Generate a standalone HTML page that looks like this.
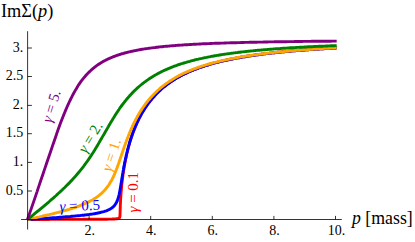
<!DOCTYPE html>
<html><head><meta charset="utf-8"><title>Im Sigma(p) plot</title>
<style>
html,body{margin:0;padding:0;background:#fff;}
body{width:415px;height:242px;overflow:hidden;font-family:"Liberation Serif",serif;}
svg{display:block;}
.ax{stroke:#000;stroke-width:0.8;fill:none;}
.cv{fill:none;stroke-width:2.9;stroke-linejoin:round;stroke-linecap:butt;}
</style></head><body>
<svg width="415" height="242" viewBox="0 0 415 242">
<rect width="415" height="242" fill="#fff"/>
<path class="cv" stroke="#ff0000" d="M27.5,219.5 28.7,219.5 29.9,219.5 31.1,219.5 32.3,219.5 33.5,219.5 34.7,219.5 35.9,219.5 37.1,219.5 38.2,219.5 39.4,219.5 40.6,219.5 41.8,219.5 43.0,219.5 44.2,219.5 45.4,219.5 46.6,219.5 47.8,219.5 49.0,219.5 50.2,219.4 51.4,219.4 52.6,219.4 53.8,219.4 55.0,219.4 56.2,219.4 57.3,219.4 58.5,219.4 59.7,219.4 60.9,219.4 62.1,219.4 63.3,219.4 64.5,219.4 65.7,219.4 66.9,219.4 68.1,219.4 69.3,219.4 70.5,219.4 71.7,219.4 72.9,219.4 74.1,219.4 75.3,219.4 76.5,219.4 77.6,219.4 78.8,219.4 80.0,219.4 81.2,219.4 82.4,219.4 83.6,219.3 84.8,219.3 86.0,219.3 87.2,219.3 88.4,219.3 89.6,219.3 90.8,219.3 92.0,219.3 93.2,219.3 94.4,219.3 95.6,219.3 96.7,219.3 97.9,219.3 99.1,219.3 100.3,219.2 101.5,219.2 102.7,219.2 103.9,219.2 105.1,219.2 106.3,219.2 107.5,219.2 107.6,219.2 107.8,219.1 108.1,219.1 108.4,219.1 108.6,219.1 108.7,219.1 108.9,219.1 109.1,219.1 109.4,219.1 109.7,219.1 109.9,219.1 109.9,219.1 110.2,219.1 110.4,219.1 110.7,219.1 110.9,219.1 111.1,219.1 111.2,219.1 111.5,219.1 111.7,219.1 112.0,219.1 112.2,219.0 112.3,219.0 112.5,219.0 112.8,219.0 113.0,219.0 113.3,219.0 113.5,219.0 113.5,219.0 113.8,219.0 114.1,219.0 114.3,219.0 114.6,218.9 114.7,218.9 114.8,218.9 115.1,218.9 115.3,218.9 115.6,218.9 115.9,218.9 115.9,218.9 116.1,218.8 116.4,218.8 116.6,218.8 116.9,218.8 117.0,218.7 117.2,218.7 117.4,218.7 117.7,218.6 117.9,218.6 118.2,218.5 118.2,218.5 118.5,218.4 118.7,218.3 119.0,218.2 119.2,218.0 119.3,218.0 119.3,217.9 119.4,217.8 119.4,217.8 119.4,217.8 119.5,217.7 119.5,217.7 119.5,217.6 119.6,217.5 119.6,217.4 119.7,217.2 119.7,217.1 119.8,217.0 119.8,216.8 119.9,216.5 119.9,216.1 120.0,215.5 120.0,214.7 120.0,214.5 120.1,213.1 120.1,211.4 120.2,209.7 120.2,208.1 120.3,207.0 120.3,206.7 120.3,205.4 120.4,204.1 120.4,203.0 120.5,202.0 120.5,201.3 120.5,201.0 120.6,200.0 120.6,199.3 120.6,199.1 120.7,198.2 120.7,197.4 120.8,196.9 120.8,196.6 120.9,195.8 120.9,195.1 121.0,194.4 121.0,193.7 121.0,193.2 121.1,193.0 121.1,192.3 121.2,191.7 121.2,191.0 121.3,190.4 121.3,190.1 121.3,189.8 121.4,189.2 121.4,188.6 121.5,188.1 121.5,187.5 121.6,187.2 121.6,187.0 121.6,186.4 121.7,185.9 121.7,185.4 121.8,184.9 121.8,184.6 121.8,184.6 121.8,184.4 121.9,183.9 121.9,183.4 122.0,182.9 122.1,182.5 122.1,182.2 122.1,182.0 122.2,181.5 122.2,181.1 122.3,180.6 122.3,180.2 122.3,180.0 122.4,179.8 122.6,177.9 122.9,176.0 123.0,174.7 123.1,174.1 123.4,172.3 123.6,170.6 123.9,168.9 124.1,167.4 124.2,167.0 124.4,165.9 124.7,164.4 124.9,163.0 125.2,161.6 125.4,160.5 125.4,160.3 125.7,159.0 126.0,157.8 126.2,156.5 126.5,155.4 126.6,154.8 126.7,154.2 127.0,153.1 127.3,152.0 127.5,150.9 127.8,149.9 127.8,149.8 128.0,148.9 128.3,147.9 128.5,146.9 128.8,145.9 129.0,145.3 129.1,145.0 129.3,144.1 129.6,143.2 129.8,142.3 130.1,141.4 130.2,141.2 130.4,140.6 130.6,139.7 130.9,138.9 131.1,138.1 131.4,137.4 131.4,137.3 131.7,136.6 131.9,135.8 132.2,135.0 132.4,134.3 132.6,133.9 132.7,133.6 132.9,132.8 133.2,132.1 133.5,131.4 133.7,130.8 133.8,130.7 134.0,130.1 134.2,129.4 134.5,128.8 134.8,128.1 135.0,127.6 135.0,127.5 135.3,126.9 135.5,126.2 135.8,125.6 136.1,125.0 136.1,124.8 136.3,124.4 136.6,123.9 136.8,123.3 137.1,122.7 137.3,122.2 137.3,122.1 137.6,121.6 137.9,121.0 138.1,120.5 138.4,120.0 138.5,119.6 139.7,117.3 140.9,115.0 142.1,112.9 143.3,110.9 144.5,109.0 145.7,107.2 146.9,105.4 148.1,103.7 149.3,102.1 150.5,100.6 151.7,99.2 152.9,97.7 154.1,96.4 155.3,95.1 156.4,93.8 157.6,92.6 158.8,91.5 160.0,90.4 161.2,89.3 162.4,88.2 163.6,87.2 164.8,86.3 166.0,85.3 167.2,84.4 168.4,83.5 169.6,82.7 170.8,81.9 172.0,81.1 173.2,80.3 174.4,79.5 175.5,78.8 176.7,78.1 177.9,77.4 179.1,76.7 180.3,76.1 181.5,75.4 182.7,74.8 183.9,74.2 185.1,73.6 186.3,73.1 187.5,72.5 188.7,72.0 189.9,71.5 191.1,70.9 192.3,70.4 193.5,70.0 194.7,69.5 195.8,69.0 197.0,68.6 198.2,68.1 199.4,67.7 200.6,67.3 201.8,66.9 203.0,66.5 204.2,66.1 205.4,65.7 206.6,65.3 207.8,65.0 209.0,64.6 210.2,64.2 211.4,63.9 212.6,63.6 213.8,63.2 214.9,62.9 216.1,62.6 217.3,62.3 218.5,62.0 219.7,61.7 220.9,61.4 222.1,61.1 223.3,60.9 224.5,60.6 225.7,60.3 226.9,60.1 228.1,59.8 229.3,59.5 230.5,59.3 231.7,59.1 232.9,58.8 234.1,58.6 235.2,58.4 236.4,58.1 237.6,57.9 238.8,57.7 240.0,57.5 241.2,57.3 242.4,57.1 243.6,56.9 244.8,56.7 246.0,56.5 247.2,56.3 248.4,56.1 249.6,55.9 250.8,55.7 252.0,55.6 253.2,55.4 254.3,55.2 255.5,55.0 256.7,54.9 257.9,54.7 259.1,54.6 260.3,54.4 261.5,54.2 262.7,54.1 263.9,53.9 265.1,53.8 266.3,53.6 267.5,53.5 268.7,53.4 269.9,53.2 271.1,53.1 272.3,52.9 273.5,52.8 274.6,52.7 275.8,52.6 277.0,52.4 278.2,52.3 279.4,52.2 280.6,52.1 281.8,51.9 283.0,51.8 284.2,51.7 285.4,51.6 286.6,51.5 287.8,51.4 289.0,51.3 290.2,51.2 291.4,51.0 292.6,50.9 293.7,50.8 294.9,50.7 296.1,50.6 297.3,50.5 298.5,50.4 299.7,50.3 300.9,50.2 302.1,50.2 303.3,50.1 304.5,50.0 305.7,49.9 306.9,49.8 308.1,49.7 309.3,49.6 310.5,49.5 311.7,49.5 312.9,49.4 314.0,49.3 315.2,49.2 316.4,49.1 317.6,49.0 318.8,49.0 320.0,48.9 321.2,48.8 322.4,48.7 323.6,48.7 324.8,48.6 326.0,48.5 327.2,48.5 328.4,48.4 329.6,48.3 330.8,48.2 332.0,48.2 333.2,48.1 334.3,48.0 335.5,48.0 336.7,47.9"/>
<path class="cv" stroke="#0000ff" d="M27.5,219.5 28.7,219.4 29.9,219.3 31.1,219.3 32.3,219.2 33.5,219.1 34.7,219.0 35.9,219.0 37.1,218.9 38.2,218.8 39.4,218.7 40.6,218.6 41.8,218.6 43.0,218.5 44.2,218.4 45.4,218.3 46.6,218.2 47.8,218.2 49.0,218.1 50.2,218.0 51.4,217.9 52.6,217.8 53.8,217.7 55.0,217.7 56.2,217.6 57.3,217.5 58.5,217.4 59.7,217.3 60.9,217.2 62.1,217.1 63.3,217.0 64.5,216.9 65.7,216.8 66.9,216.8 68.1,216.7 69.3,216.6 70.5,216.5 71.7,216.3 72.9,216.2 74.1,216.1 75.3,216.0 76.5,215.9 77.6,215.8 78.8,215.7 80.0,215.6 81.2,215.4 82.4,215.3 83.6,215.2 84.8,215.0 86.0,214.9 87.2,214.7 88.4,214.6 89.6,214.4 90.8,214.2 92.0,214.1 93.2,213.9 94.4,213.7 95.6,213.5 96.7,213.3 97.9,213.0 99.1,212.8 100.3,212.5 101.5,212.2 102.7,211.9 103.9,211.6 105.1,211.2 106.3,210.8 107.5,210.3 107.6,210.3 107.8,210.2 108.1,210.1 108.4,209.9 108.6,209.8 108.7,209.8 108.9,209.7 109.1,209.6 109.4,209.4 109.7,209.3 109.9,209.2 109.9,209.2 110.2,209.0 110.4,208.9 110.7,208.7 110.9,208.5 111.1,208.5 111.2,208.4 111.5,208.2 111.7,208.0 112.0,207.8 112.2,207.6 112.3,207.6 112.5,207.4 112.8,207.2 113.0,207.0 113.3,206.8 113.5,206.6 113.5,206.5 113.8,206.2 114.1,206.0 114.3,205.7 114.6,205.4 114.7,205.3 114.8,205.1 115.1,204.7 115.3,204.3 115.6,204.0 115.9,203.6 115.9,203.5 116.1,203.1 116.4,202.6 116.6,202.1 116.9,201.5 117.0,201.2 117.2,201.0 117.4,200.3 117.7,199.6 117.9,198.8 118.2,198.0 118.2,197.9 118.5,197.1 118.7,196.1 119.0,195.1 119.2,193.9 119.3,193.7 119.3,193.4 119.4,193.2 119.4,193.0 119.4,192.9 119.5,192.7 119.5,192.7 119.5,192.4 119.6,192.1 119.6,191.9 119.7,191.6 119.7,191.4 119.8,191.3 119.8,191.1 119.9,190.8 119.9,190.5 120.0,190.2 120.0,190.0 120.0,189.9 120.1,189.6 120.1,189.3 120.2,189.1 120.2,188.8 120.3,188.5 120.3,188.5 120.3,188.1 120.4,187.8 120.4,187.5 120.5,187.2 120.5,187.0 120.5,186.9 120.6,186.6 120.6,186.4 120.6,186.3 120.7,186.0 120.7,185.6 120.8,185.4 120.8,185.3 120.9,185.0 120.9,184.7 121.0,184.4 121.0,184.0 121.0,183.8 121.1,183.7 121.1,183.4 121.2,183.1 121.2,182.7 121.3,182.4 121.3,182.2 121.3,182.1 121.4,181.7 121.4,181.4 121.5,181.1 121.5,180.8 121.6,180.6 121.6,180.4 121.6,180.1 121.7,179.8 121.7,179.5 121.8,179.1 121.8,179.0 121.8,178.9 121.8,178.8 121.9,178.5 121.9,178.2 122.0,177.8 122.1,177.5 122.1,177.4 122.1,177.2 122.2,176.9 122.2,176.5 122.3,176.2 122.3,175.9 122.3,175.8 122.4,175.6 122.6,174.2 122.9,172.7 123.0,171.7 123.1,171.2 123.4,169.7 123.6,168.3 123.9,166.9 124.1,165.5 124.2,165.2 124.4,164.2 124.7,162.9 124.9,161.6 125.2,160.3 125.4,159.3 125.4,159.1 125.7,157.9 126.0,156.8 126.2,155.6 126.5,154.5 126.6,154.0 126.7,153.4 127.0,152.4 127.3,151.3 127.5,150.3 127.8,149.3 127.8,149.2 128.0,148.3 128.3,147.3 128.5,146.4 128.8,145.5 129.0,144.8 129.1,144.6 129.3,143.7 129.6,142.8 129.8,141.9 130.1,141.1 130.2,140.8 130.4,140.3 130.6,139.4 130.9,138.6 131.1,137.8 131.4,137.1 131.4,137.1 131.7,136.3 131.9,135.5 132.2,134.8 132.4,134.1 132.6,133.7 132.7,133.4 132.9,132.7 133.2,132.0 133.5,131.3 133.7,130.6 133.8,130.5 134.0,129.9 134.2,129.3 134.5,128.6 134.8,128.0 135.0,127.5 135.0,127.4 135.3,126.7 135.5,126.1 135.8,125.5 136.1,124.9 136.1,124.7 136.3,124.3 136.6,123.8 136.8,123.2 137.1,122.6 137.3,122.1 137.3,122.1 137.6,121.5 137.9,121.0 138.1,120.4 138.4,119.9 138.5,119.6 139.7,117.2 140.9,115.0 142.1,112.9 143.3,110.9 144.5,109.0 145.7,107.1 146.9,105.4 148.1,103.7 149.3,102.1 150.5,100.6 151.7,99.1 152.9,97.7 154.1,96.4 155.3,95.1 156.4,93.8 157.6,92.6 158.8,91.5 160.0,90.4 161.2,89.3 162.4,88.2 163.6,87.2 164.8,86.3 166.0,85.3 167.2,84.4 168.4,83.5 169.6,82.7 170.8,81.9 172.0,81.1 173.2,80.3 174.4,79.5 175.5,78.8 176.7,78.1 177.9,77.4 179.1,76.7 180.3,76.1 181.5,75.4 182.7,74.8 183.9,74.2 185.1,73.6 186.3,73.1 187.5,72.5 188.7,72.0 189.9,71.5 191.1,70.9 192.3,70.4 193.5,70.0 194.7,69.5 195.8,69.0 197.0,68.6 198.2,68.1 199.4,67.7 200.6,67.3 201.8,66.9 203.0,66.5 204.2,66.1 205.4,65.7 206.6,65.3 207.8,65.0 209.0,64.6 210.2,64.2 211.4,63.9 212.6,63.6 213.8,63.2 214.9,62.9 216.1,62.6 217.3,62.3 218.5,62.0 219.7,61.7 220.9,61.4 222.1,61.1 223.3,60.8 224.5,60.6 225.7,60.3 226.9,60.0 228.1,59.8 229.3,59.5 230.5,59.3 231.7,59.1 232.9,58.8 234.1,58.6 235.2,58.4 236.4,58.1 237.6,57.9 238.8,57.7 240.0,57.5 241.2,57.3 242.4,57.1 243.6,56.9 244.8,56.7 246.0,56.5 247.2,56.3 248.4,56.1 249.6,55.9 250.8,55.7 252.0,55.6 253.2,55.4 254.3,55.2 255.5,55.0 256.7,54.9 257.9,54.7 259.1,54.6 260.3,54.4 261.5,54.2 262.7,54.1 263.9,53.9 265.1,53.8 266.3,53.6 267.5,53.5 268.7,53.4 269.9,53.2 271.1,53.1 272.3,52.9 273.5,52.8 274.6,52.7 275.8,52.6 277.0,52.4 278.2,52.3 279.4,52.2 280.6,52.1 281.8,51.9 283.0,51.8 284.2,51.7 285.4,51.6 286.6,51.5 287.8,51.4 289.0,51.3 290.2,51.2 291.4,51.0 292.6,50.9 293.7,50.8 294.9,50.7 296.1,50.6 297.3,50.5 298.5,50.4 299.7,50.3 300.9,50.2 302.1,50.2 303.3,50.1 304.5,50.0 305.7,49.9 306.9,49.8 308.1,49.7 309.3,49.6 310.5,49.5 311.7,49.4 312.9,49.4 314.0,49.3 315.2,49.2 316.4,49.1 317.6,49.0 318.8,49.0 320.0,48.9 321.2,48.8 322.4,48.7 323.6,48.7 324.8,48.6 326.0,48.5 327.2,48.4 328.4,48.4 329.6,48.3 330.8,48.2 332.0,48.2 333.2,48.1 334.3,48.0 335.5,48.0 336.7,47.9"/>
<path class="cv" stroke="#ffa500" d="M27.5,219.5 28.7,219.2 29.9,219.0 31.1,218.7 32.3,218.4 33.5,218.2 34.7,217.9 35.9,217.7 37.1,217.4 38.2,217.1 39.4,216.9 40.6,216.6 41.8,216.3 43.0,216.0 44.2,215.8 45.4,215.5 46.6,215.2 47.8,214.9 49.0,214.7 50.2,214.4 51.4,214.1 52.6,213.8 53.8,213.5 55.0,213.2 56.2,212.9 57.3,212.6 58.5,212.3 59.7,212.0 60.9,211.7 62.1,211.3 63.3,211.0 64.5,210.7 65.7,210.3 66.9,210.0 68.1,209.6 69.3,209.3 70.5,208.9 71.7,208.5 72.9,208.2 74.1,207.8 75.3,207.4 76.5,207.0 77.6,206.5 78.8,206.1 80.0,205.6 81.2,205.2 82.4,204.7 83.6,204.2 84.8,203.7 86.0,203.2 87.2,202.6 88.4,202.0 89.6,201.4 90.8,200.8 92.0,200.2 93.2,199.5 94.4,198.7 95.6,198.0 96.7,197.2 97.9,196.3 99.1,195.4 100.3,194.4 101.5,193.4 102.7,192.2 103.9,191.0 105.1,189.7 106.3,188.3 107.5,186.7 107.6,186.6 107.8,186.3 108.1,185.9 108.4,185.5 108.6,185.2 108.7,185.0 108.9,184.8 109.1,184.4 109.4,184.0 109.7,183.6 109.9,183.2 109.9,183.1 110.2,182.7 110.4,182.3 110.7,181.8 110.9,181.4 111.1,181.1 111.2,180.9 111.5,180.4 111.7,180.0 112.0,179.5 112.2,179.0 112.3,178.9 112.5,178.5 112.8,177.9 113.0,177.4 113.3,176.9 113.5,176.5 113.5,176.3 113.8,175.7 114.1,175.2 114.3,174.6 114.6,174.0 114.7,173.8 114.8,173.4 115.1,172.8 115.3,172.1 115.6,171.5 115.9,170.9 115.9,170.8 116.1,170.2 116.4,169.5 116.6,168.9 116.9,168.2 117.0,167.8 117.2,167.5 117.4,166.8 117.7,166.1 117.9,165.3 118.2,164.6 118.2,164.5 118.5,163.9 118.7,163.2 119.0,162.4 119.2,161.7 119.3,161.5 119.3,161.4 119.4,161.2 119.4,161.1 119.4,161.0 119.5,160.9 119.5,160.9 119.5,160.7 119.6,160.6 119.6,160.4 119.7,160.3 119.7,160.2 119.8,160.1 119.8,160.0 119.9,159.8 119.9,159.7 120.0,159.5 120.0,159.4 120.0,159.4 120.1,159.2 120.1,159.1 120.2,158.9 120.2,158.8 120.3,158.6 120.3,158.6 120.3,158.5 120.4,158.3 120.4,158.1 120.5,158.0 120.5,157.9 120.5,157.8 120.6,157.7 120.6,157.6 120.6,157.5 120.7,157.4 120.7,157.2 120.8,157.1 120.8,157.1 120.9,156.9 120.9,156.8 121.0,156.6 121.0,156.4 121.0,156.4 121.1,156.3 121.1,156.1 121.2,156.0 121.2,155.8 121.3,155.7 121.3,155.6 121.3,155.5 121.4,155.4 121.4,155.2 121.5,155.1 121.5,154.9 121.6,154.8 121.6,154.7 121.6,154.6 121.7,154.4 121.7,154.3 121.8,154.1 121.8,154.1 121.8,154.0 121.8,154.0 121.9,153.8 121.9,153.7 122.0,153.5 122.1,153.4 122.1,153.3 122.1,153.2 122.2,153.0 122.2,152.9 122.3,152.7 122.3,152.6 122.3,152.5 122.4,152.4 122.6,151.8 122.9,151.0 123.0,150.5 123.1,150.2 123.4,149.5 123.6,148.7 123.9,148.0 124.1,147.2 124.2,147.1 124.4,146.5 124.7,145.8 124.9,145.0 125.2,144.3 125.4,143.7 125.4,143.6 125.7,142.9 126.0,142.2 126.2,141.5 126.5,140.8 126.6,140.4 126.7,140.1 127.0,139.4 127.3,138.7 127.5,138.0 127.8,137.3 127.8,137.3 128.0,136.7 128.3,136.0 128.5,135.4 128.8,134.7 129.0,134.3 129.1,134.1 129.3,133.5 129.6,132.8 129.8,132.2 130.1,131.6 130.2,131.4 130.4,131.0 130.6,130.4 130.9,129.8 131.1,129.2 131.4,128.6 131.4,128.6 131.7,128.0 131.9,127.4 132.2,126.9 132.4,126.3 132.6,126.0 132.7,125.7 132.9,125.2 133.2,124.6 133.5,124.1 133.7,123.6 133.8,123.5 134.0,123.0 134.2,122.5 134.5,122.0 134.8,121.5 135.0,121.1 135.0,121.0 135.3,120.5 135.5,120.0 135.8,119.5 136.1,119.0 136.1,118.8 136.3,118.5 136.6,118.0 136.8,117.5 137.1,117.1 137.3,116.6 137.3,116.6 137.6,116.1 137.9,115.7 138.1,115.2 138.4,114.8 138.5,114.5 139.7,112.5 140.9,110.6 142.1,108.8 143.3,107.0 144.5,105.3 145.7,103.7 146.9,102.2 148.1,100.7 149.3,99.2 150.5,97.8 151.7,96.5 152.9,95.2 154.1,94.0 155.3,92.8 156.4,91.7 157.6,90.5 158.8,89.5 160.0,88.4 161.2,87.4 162.4,86.5 163.6,85.5 164.8,84.6 166.0,83.7 167.2,82.9 168.4,82.1 169.6,81.3 170.8,80.5 172.0,79.7 173.2,79.0 174.4,78.3 175.5,77.6 176.7,76.9 177.9,76.3 179.1,75.6 180.3,75.0 181.5,74.4 182.7,73.8 183.9,73.2 185.1,72.7 186.3,72.1 187.5,71.6 188.7,71.1 189.9,70.6 191.1,70.1 192.3,69.6 193.5,69.2 194.7,68.7 195.8,68.3 197.0,67.8 198.2,67.4 199.4,67.0 200.6,66.6 201.8,66.2 203.0,65.8 204.2,65.4 205.4,65.1 206.6,64.7 207.8,64.4 209.0,64.0 210.2,63.7 211.4,63.3 212.6,63.0 213.8,62.7 214.9,62.4 216.1,62.1 217.3,61.8 218.5,61.5 219.7,61.2 220.9,60.9 222.1,60.7 223.3,60.4 224.5,60.1 225.7,59.9 226.9,59.6 228.1,59.4 229.3,59.1 230.5,58.9 231.7,58.6 232.9,58.4 234.1,58.2 235.2,58.0 236.4,57.8 237.6,57.5 238.8,57.3 240.0,57.1 241.2,56.9 242.4,56.7 243.6,56.5 244.8,56.3 246.0,56.1 247.2,56.0 248.4,55.8 249.6,55.6 250.8,55.4 252.0,55.2 253.2,55.1 254.3,54.9 255.5,54.7 256.7,54.6 257.9,54.4 259.1,54.3 260.3,54.1 261.5,54.0 262.7,53.8 263.9,53.7 265.1,53.5 266.3,53.4 267.5,53.2 268.7,53.1 269.9,53.0 271.1,52.8 272.3,52.7 273.5,52.6 274.6,52.4 275.8,52.3 277.0,52.2 278.2,52.1 279.4,52.0 280.6,51.8 281.8,51.7 283.0,51.6 284.2,51.5 285.4,51.4 286.6,51.3 287.8,51.2 289.0,51.1 290.2,51.0 291.4,50.8 292.6,50.7 293.7,50.6 294.9,50.5 296.1,50.4 297.3,50.3 298.5,50.3 299.7,50.2 300.9,50.1 302.1,50.0 303.3,49.9 304.5,49.8 305.7,49.7 306.9,49.6 308.1,49.5 309.3,49.5 310.5,49.4 311.7,49.3 312.9,49.2 314.0,49.1 315.2,49.0 316.4,49.0 317.6,48.9 318.8,48.8 320.0,48.7 321.2,48.7 322.4,48.6 323.6,48.5 324.8,48.4 326.0,48.4 327.2,48.3 328.4,48.2 329.6,48.2 330.8,48.1 332.0,48.0 333.2,48.0 334.3,47.9 335.5,47.8 336.7,47.8"/>
<path class="cv" stroke="#008000" d="M27.5,219.5 28.7,218.5 29.9,217.6 31.1,216.6 32.3,215.6 33.5,214.7 34.7,213.7 35.9,212.7 37.1,211.7 38.2,210.8 39.4,209.8 40.6,208.8 41.8,207.8 43.0,206.8 44.2,205.8 45.4,204.8 46.6,203.8 47.8,202.8 49.0,201.8 50.2,200.7 51.4,199.7 52.6,198.7 53.8,197.6 55.0,196.5 56.2,195.5 57.3,194.4 58.5,193.3 59.7,192.2 60.9,191.1 62.1,190.0 63.3,188.8 64.5,187.7 65.7,186.5 66.9,185.3 68.1,184.1 69.3,182.9 70.5,181.6 71.7,180.4 72.9,179.1 74.1,177.8 75.3,176.4 76.5,175.1 77.6,173.7 78.8,172.3 80.0,170.8 81.2,169.3 82.4,167.8 83.6,166.3 84.8,164.7 86.0,163.0 87.2,161.4 88.4,159.7 89.6,157.9 90.8,156.2 92.0,154.3 93.2,152.5 94.4,150.6 95.6,148.6 96.7,146.7 97.9,144.7 99.1,142.6 100.3,140.6 101.5,138.5 102.7,136.4 103.9,134.4 105.1,132.3 106.3,130.2 107.5,128.1 107.6,127.9 107.8,127.5 108.1,127.0 108.4,126.6 108.6,126.1 108.7,126.0 108.9,125.7 109.1,125.3 109.4,124.8 109.7,124.4 109.9,124.0 109.9,123.9 110.2,123.5 110.4,123.1 110.7,122.6 110.9,122.2 111.1,122.0 111.2,121.7 111.5,121.3 111.7,120.9 112.0,120.5 112.2,120.0 112.3,120.0 112.5,119.6 112.8,119.2 113.0,118.7 113.3,118.3 113.5,118.0 113.5,117.9 113.8,117.5 114.1,117.1 114.3,116.7 114.6,116.2 114.7,116.1 114.8,115.8 115.1,115.4 115.3,115.0 115.6,114.6 115.9,114.2 115.9,114.2 116.1,113.8 116.4,113.4 116.6,113.0 116.9,112.6 117.0,112.4 117.2,112.2 117.4,111.8 117.7,111.4 117.9,111.1 118.2,110.7 118.2,110.6 118.5,110.3 118.7,109.9 119.0,109.5 119.2,109.2 119.3,109.1 119.3,109.0 119.4,108.9 119.4,108.9 119.4,108.9 119.5,108.8 119.5,108.8 119.5,108.7 119.6,108.6 119.6,108.6 119.7,108.5 119.7,108.4 119.8,108.4 119.8,108.3 119.9,108.3 119.9,108.2 120.0,108.1 120.0,108.0 120.0,108.0 120.1,108.0 120.1,107.9 120.2,107.8 120.2,107.7 120.3,107.7 120.3,107.7 120.3,107.6 120.4,107.5 120.4,107.4 120.5,107.4 120.5,107.3 120.5,107.3 120.6,107.2 120.6,107.2 120.6,107.1 120.7,107.1 120.7,107.0 120.8,106.9 120.8,106.9 120.9,106.9 120.9,106.8 121.0,106.7 121.0,106.6 121.0,106.6 121.1,106.6 121.1,106.5 121.2,106.4 121.2,106.3 121.3,106.3 121.3,106.2 121.3,106.2 121.4,106.1 121.4,106.1 121.5,106.0 121.5,105.9 121.6,105.9 121.6,105.8 121.6,105.8 121.7,105.7 121.7,105.6 121.8,105.6 121.8,105.5 121.8,105.5 121.8,105.5 121.9,105.4 121.9,105.3 122.0,105.3 122.1,105.2 122.1,105.2 122.1,105.1 122.2,105.1 122.2,105.0 122.3,104.9 122.3,104.8 122.3,104.8 122.4,104.8 122.6,104.5 122.9,104.1 123.0,103.9 123.1,103.8 123.4,103.4 123.6,103.1 123.9,102.8 124.1,102.4 124.2,102.4 124.4,102.1 124.7,101.8 124.9,101.4 125.2,101.1 125.4,100.8 125.4,100.8 125.7,100.5 126.0,100.2 126.2,99.8 126.5,99.5 126.6,99.4 126.7,99.2 127.0,98.9 127.3,98.6 127.5,98.3 127.8,98.0 127.8,98.0 128.0,97.7 128.3,97.4 128.5,97.1 128.8,96.8 129.0,96.6 129.1,96.5 129.3,96.2 129.6,95.9 129.8,95.6 130.1,95.3 130.2,95.2 130.4,95.1 130.6,94.8 130.9,94.5 131.1,94.2 131.4,94.0 131.4,93.9 131.7,93.7 131.9,93.4 132.2,93.1 132.4,92.8 132.6,92.7 132.7,92.6 132.9,92.3 133.2,92.1 133.5,91.8 133.7,91.5 133.8,91.5 134.0,91.3 134.2,91.0 134.5,90.8 134.8,90.5 135.0,90.3 135.0,90.3 135.3,90.0 135.5,89.8 135.8,89.5 136.1,89.3 136.1,89.2 136.3,89.0 136.6,88.8 136.8,88.5 137.1,88.3 137.3,88.1 137.3,88.1 137.6,87.8 137.9,87.6 138.1,87.4 138.4,87.1 138.5,87.0 139.7,86.0 140.9,85.0 142.1,84.0 143.3,83.1 144.5,82.2 145.7,81.3 146.9,80.4 148.1,79.6 149.3,78.8 150.5,78.0 151.7,77.2 152.9,76.5 154.1,75.8 155.3,75.1 156.4,74.4 157.6,73.7 158.8,73.1 160.0,72.5 161.2,71.9 162.4,71.3 163.6,70.7 164.8,70.2 166.0,69.6 167.2,69.1 168.4,68.6 169.6,68.1 170.8,67.6 172.0,67.1 173.2,66.7 174.4,66.2 175.5,65.8 176.7,65.4 177.9,64.9 179.1,64.5 180.3,64.1 181.5,63.7 182.7,63.4 183.9,63.0 185.1,62.6 186.3,62.3 187.5,61.9 188.7,61.6 189.9,61.3 191.1,60.9 192.3,60.6 193.5,60.3 194.7,60.0 195.8,59.7 197.0,59.4 198.2,59.2 199.4,58.9 200.6,58.6 201.8,58.4 203.0,58.1 204.2,57.8 205.4,57.6 206.6,57.4 207.8,57.1 209.0,56.9 210.2,56.7 211.4,56.4 212.6,56.2 213.8,56.0 214.9,55.8 216.1,55.6 217.3,55.4 218.5,55.2 219.7,55.0 220.9,54.8 222.1,54.6 223.3,54.4 224.5,54.2 225.7,54.1 226.9,53.9 228.1,53.7 229.3,53.6 230.5,53.4 231.7,53.2 232.9,53.1 234.1,52.9 235.2,52.8 236.4,52.6 237.6,52.5 238.8,52.3 240.0,52.2 241.2,52.0 242.4,51.9 243.6,51.8 244.8,51.6 246.0,51.5 247.2,51.4 248.4,51.2 249.6,51.1 250.8,51.0 252.0,50.9 253.2,50.8 254.3,50.6 255.5,50.5 256.7,50.4 257.9,50.3 259.1,50.2 260.3,50.1 261.5,50.0 262.7,49.9 263.9,49.8 265.1,49.7 266.3,49.6 267.5,49.5 268.7,49.4 269.9,49.3 271.1,49.2 272.3,49.1 273.5,49.0 274.6,48.9 275.8,48.8 277.0,48.7 278.2,48.6 279.4,48.6 280.6,48.5 281.8,48.4 283.0,48.3 284.2,48.2 285.4,48.2 286.6,48.1 287.8,48.0 289.0,47.9 290.2,47.8 291.4,47.8 292.6,47.7 293.7,47.6 294.9,47.6 296.1,47.5 297.3,47.4 298.5,47.4 299.7,47.3 300.9,47.2 302.1,47.2 303.3,47.1 304.5,47.0 305.7,47.0 306.9,46.9 308.1,46.8 309.3,46.8 310.5,46.7 311.7,46.7 312.9,46.6 314.0,46.5 315.2,46.5 316.4,46.4 317.6,46.4 318.8,46.3 320.0,46.3 321.2,46.2 322.4,46.2 323.6,46.1 324.8,46.1 326.0,46.0 327.2,46.0 328.4,45.9 329.6,45.9 330.8,45.8 332.0,45.8 333.2,45.7 334.3,45.7 335.5,45.6 336.7,45.6"/>
<path class="cv" stroke="#800080" d="M27.5,219.5 28.7,216.0 29.9,212.6 31.1,209.1 32.3,205.6 33.5,202.1 34.7,198.6 35.9,195.1 37.1,191.6 38.2,188.1 39.4,184.6 40.6,181.0 41.8,177.5 43.0,174.0 44.2,170.4 45.4,166.9 46.6,163.3 47.8,159.8 49.0,156.2 50.2,152.7 51.4,149.2 52.6,145.6 53.8,142.2 55.0,138.7 56.2,135.3 57.3,131.9 58.5,128.6 59.7,125.3 60.9,122.1 62.1,119.0 63.3,115.9 64.5,113.0 65.7,110.1 66.9,107.3 68.1,104.6 69.3,102.0 70.5,99.5 71.7,97.1 72.9,94.7 74.1,92.5 75.3,90.4 76.5,88.4 77.6,86.5 78.8,84.6 80.0,82.9 81.2,81.2 82.4,79.6 83.6,78.1 84.8,76.7 86.0,75.3 87.2,74.0 88.4,72.8 89.6,71.6 90.8,70.5 92.0,69.4 93.2,68.4 94.4,67.4 95.6,66.5 96.7,65.6 97.9,64.8 99.1,64.0 100.3,63.2 101.5,62.5 102.7,61.8 103.9,61.1 105.1,60.5 106.3,59.9 107.5,59.3 107.6,59.3 107.8,59.1 108.1,59.0 108.4,58.9 108.6,58.8 108.7,58.7 108.9,58.6 109.1,58.5 109.4,58.4 109.7,58.3 109.9,58.2 109.9,58.2 110.2,58.1 110.4,58.0 110.7,57.8 110.9,57.7 111.1,57.7 111.2,57.6 111.5,57.5 111.7,57.4 112.0,57.3 112.2,57.2 112.3,57.2 112.5,57.1 112.8,57.0 113.0,56.9 113.3,56.8 113.5,56.7 113.5,56.7 113.8,56.6 114.1,56.5 114.3,56.4 114.6,56.3 114.7,56.2 114.8,56.2 115.1,56.1 115.3,56.0 115.6,55.9 115.9,55.8 115.9,55.8 116.1,55.7 116.4,55.6 116.6,55.5 116.9,55.4 117.0,55.4 117.2,55.3 117.4,55.3 117.7,55.2 117.9,55.1 118.2,55.0 118.2,55.0 118.5,54.9 118.7,54.8 119.0,54.7 119.2,54.7 119.3,54.6 119.3,54.6 119.4,54.6 119.4,54.6 119.4,54.6 119.5,54.6 119.5,54.6 119.5,54.6 119.6,54.5 119.6,54.5 119.7,54.5 119.7,54.5 119.8,54.5 119.8,54.5 119.9,54.5 119.9,54.4 120.0,54.4 120.0,54.4 120.0,54.4 120.1,54.4 120.1,54.4 120.2,54.4 120.2,54.3 120.3,54.3 120.3,54.3 120.3,54.3 120.4,54.3 120.4,54.3 120.5,54.3 120.5,54.2 120.5,54.2 120.6,54.2 120.6,54.2 120.6,54.2 120.7,54.2 120.7,54.2 120.8,54.2 120.8,54.2 120.9,54.1 120.9,54.1 121.0,54.1 121.0,54.1 121.0,54.1 121.1,54.1 121.1,54.1 121.2,54.1 121.2,54.0 121.3,54.0 121.3,54.0 121.3,54.0 121.4,54.0 121.4,54.0 121.5,54.0 121.5,53.9 121.6,53.9 121.6,53.9 121.6,53.9 121.7,53.9 121.7,53.9 121.8,53.9 121.8,53.9 121.8,53.9 121.8,53.8 121.9,53.8 121.9,53.8 122.0,53.8 122.1,53.8 122.1,53.8 122.1,53.8 122.2,53.8 122.2,53.7 122.3,53.7 122.3,53.7 122.3,53.7 122.4,53.7 122.6,53.6 122.9,53.6 123.0,53.5 123.1,53.5 123.4,53.4 123.6,53.3 123.9,53.3 124.1,53.2 124.2,53.2 124.4,53.1 124.7,53.0 124.9,53.0 125.2,52.9 125.4,52.8 125.4,52.8 125.7,52.8 126.0,52.7 126.2,52.6 126.5,52.6 126.6,52.5 126.7,52.5 127.0,52.4 127.3,52.4 127.5,52.3 127.8,52.2 127.8,52.2 128.0,52.2 128.3,52.1 128.5,52.0 128.8,52.0 129.0,51.9 129.1,51.9 129.3,51.9 129.6,51.8 129.8,51.7 130.1,51.7 130.2,51.7 130.4,51.6 130.6,51.6 130.9,51.5 131.1,51.4 131.4,51.4 131.4,51.4 131.7,51.3 131.9,51.3 132.2,51.2 132.4,51.2 132.6,51.1 132.7,51.1 132.9,51.0 133.2,51.0 133.5,50.9 133.7,50.9 133.8,50.9 134.0,50.8 134.2,50.8 134.5,50.7 134.8,50.7 135.0,50.6 135.0,50.6 135.3,50.6 135.5,50.5 135.8,50.5 136.1,50.4 136.1,50.4 136.3,50.4 136.6,50.3 136.8,50.3 137.1,50.2 137.3,50.2 137.3,50.2 137.6,50.1 137.9,50.1 138.1,50.0 138.4,50.0 138.5,49.9 139.7,49.7 140.9,49.5 142.1,49.3 143.3,49.1 144.5,48.9 145.7,48.7 146.9,48.6 148.1,48.4 149.3,48.2 150.5,48.1 151.7,47.9 152.9,47.8 154.1,47.6 155.3,47.5 156.4,47.3 157.6,47.2 158.8,47.0 160.0,46.9 161.2,46.8 162.4,46.7 163.6,46.5 164.8,46.4 166.0,46.3 167.2,46.2 168.4,46.1 169.6,46.0 170.8,45.9 172.0,45.8 173.2,45.7 174.4,45.6 175.5,45.5 176.7,45.4 177.9,45.3 179.1,45.2 180.3,45.1 181.5,45.1 182.7,45.0 183.9,44.9 185.1,44.8 186.3,44.7 187.5,44.7 188.7,44.6 189.9,44.5 191.1,44.5 192.3,44.4 193.5,44.3 194.7,44.3 195.8,44.2 197.0,44.1 198.2,44.1 199.4,44.0 200.6,44.0 201.8,43.9 203.0,43.8 204.2,43.8 205.4,43.7 206.6,43.7 207.8,43.6 209.0,43.6 210.2,43.5 211.4,43.5 212.6,43.4 213.8,43.4 214.9,43.3 216.1,43.3 217.3,43.3 218.5,43.2 219.7,43.2 220.9,43.1 222.1,43.1 223.3,43.1 224.5,43.0 225.7,43.0 226.9,42.9 228.1,42.9 229.3,42.9 230.5,42.8 231.7,42.8 232.9,42.8 234.1,42.7 235.2,42.7 236.4,42.7 237.6,42.6 238.8,42.6 240.0,42.6 241.2,42.5 242.4,42.5 243.6,42.5 244.8,42.4 246.0,42.4 247.2,42.4 248.4,42.4 249.6,42.3 250.8,42.3 252.0,42.3 253.2,42.2 254.3,42.2 255.5,42.2 256.7,42.2 257.9,42.1 259.1,42.1 260.3,42.1 261.5,42.1 262.7,42.1 263.9,42.0 265.1,42.0 266.3,42.0 267.5,42.0 268.7,41.9 269.9,41.9 271.1,41.9 272.3,41.9 273.5,41.9 274.6,41.8 275.8,41.8 277.0,41.8 278.2,41.8 279.4,41.8 280.6,41.7 281.8,41.7 283.0,41.7 284.2,41.7 285.4,41.7 286.6,41.7 287.8,41.6 289.0,41.6 290.2,41.6 291.4,41.6 292.6,41.6 293.7,41.6 294.9,41.5 296.1,41.5 297.3,41.5 298.5,41.5 299.7,41.5 300.9,41.5 302.1,41.5 303.3,41.4 304.5,41.4 305.7,41.4 306.9,41.4 308.1,41.4 309.3,41.4 310.5,41.4 311.7,41.3 312.9,41.3 314.0,41.3 315.2,41.3 316.4,41.3 317.6,41.3 318.8,41.3 320.0,41.3 321.2,41.2 322.4,41.2 323.6,41.2 324.8,41.2 326.0,41.2 327.2,41.2 328.4,41.2 329.6,41.2 330.8,41.2 332.0,41.1 333.2,41.1 334.3,41.1 335.5,41.1 336.7,41.1"/>
<path class="ax" d="M21.1,219.5 H341.8 M27.6,31.2 V229.5"/>
<path class="ax" d="M89.1,219.5 v-3.6 M150.7,219.5 v-3.6 M212.3,219.5 v-3.6 M273.9,219.5 v-3.6 M335.5,219.5 v-3.6 "/>
<path class="ax" d="M27.6,48.0 h4.3 M27.6,76.5 h4.3 M27.6,105.4 h4.3 M27.6,133.7 h4.3 M27.6,162.4 h4.3 M27.6,191.0 h4.3 "/>
<g font-family="'Liberation Serif', serif" fill="#000">
<text x="1.0" y="17" font-size="18.3">ImΣ(<tspan font-style="italic">p</tspan>)</text>
<text x="352.0" y="224.3" font-size="17.8"><tspan font-style="italic">p</tspan> [mass]</text>
<text x="84.4" y="235.4" font-size="14">2.</text><text x="146.0" y="235.4" font-size="14">4.</text><text x="207.6" y="235.4" font-size="14">6.</text><text x="269.2" y="235.4" font-size="14">8.</text><text x="327.7" y="235.4" font-size="14">10.</text>
<text x="23.2" y="51.6" font-size="14" text-anchor="end">3.</text><text x="23.2" y="80.2" font-size="14" text-anchor="end">2.5</text><text x="23.2" y="108.8" font-size="14" text-anchor="end">2.</text><text x="23.2" y="137.4" font-size="14" text-anchor="end">1.5</text><text x="23.2" y="166" font-size="14" text-anchor="end">1.</text><text x="23.2" y="194.6" font-size="14" text-anchor="end">0.5</text>
<text transform="translate(56.0,107.7) rotate(-73)" font-size="15" text-anchor="middle" fill="#800080"><tspan font-style="italic">γ</tspan> = 5.</text>
<text transform="translate(94.6,139.8) rotate(-59)" font-size="15" text-anchor="middle" fill="#008000"><tspan font-style="italic">γ</tspan> = 2.</text>
<text transform="translate(116.0,156.4) rotate(-72)" font-size="15" text-anchor="middle" fill="#ffa500"><tspan font-style="italic">γ</tspan> = 1.</text>
<text transform="translate(80,210.6) rotate(-2.5)" font-size="15" text-anchor="middle" fill="#0000ff"><tspan font-style="italic">γ</tspan> = 0.5</text>
<text transform="translate(138.4,192.2) rotate(-90)" font-size="15" text-anchor="middle" fill="#ff0000"><tspan font-style="italic">γ</tspan> = 0.1</text>
</g>
</svg>
</body></html>
